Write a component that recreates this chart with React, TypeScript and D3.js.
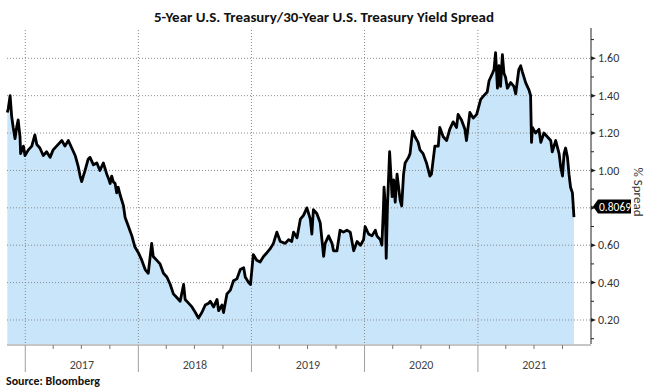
import { useEffect, useRef } from 'react';
import * as d3 from 'd3';

// 5y/30y UST spread
const dates: string[] = [
  '2016-11-04', '2016-11-07', '2016-11-13', '2016-11-18', '2016-11-23', '2016-11-29', '2016-12-04', '2016-12-09',
  '2016-12-15', '2016-12-17', '2016-12-26', '2016-12-31', '2017-01-11', '2017-01-22', '2017-02-01', '2017-02-07',
  '2017-02-17', '2017-02-28', '2017-03-11', '2017-03-22', '2017-04-01', '2017-04-12', '2017-04-29', '2017-05-09',
  '2017-05-20', '2017-05-31', '2017-06-11', '2017-06-21', '2017-06-27', '2017-07-02', '2017-07-13', '2017-07-23',
  '2017-07-29', '2017-08-09', '2017-08-20', '2017-08-30', '2017-09-10', '2017-09-21', '2017-09-26', '2017-10-02',
  '2017-10-07', '2017-10-12', '2017-10-18', '2017-10-23', '2017-10-28', '2017-11-03', '2017-11-14', '2017-11-19',
  '2017-11-30', '2017-12-11', '2017-12-21', '2018-01-01', '2018-01-12', '2018-01-23', '2018-02-02', '2018-02-13',
  '2018-02-18', '2018-03-01', '2018-03-12', '2018-03-23', '2018-04-03', '2018-04-14', '2018-04-24', '2018-05-05',
  '2018-05-16', '2018-05-27', '2018-06-01', '2018-06-12', '2018-06-23', '2018-07-04', '2018-07-14', '2018-07-25',
  '2018-08-05', '2018-08-16', '2018-08-21', '2018-09-01', '2018-09-12', '2018-09-17', '2018-09-28', '2018-10-03',
  '2018-10-14', '2018-10-25', '2018-11-04', '2018-11-15', '2018-11-26', '2018-12-07', '2018-12-12', '2018-12-23',
  '2018-12-29', '2019-01-07', '2019-01-18', '2019-01-29', '2019-02-09', '2019-02-20', '2019-03-02', '2019-03-13',
  '2019-03-24', '2019-04-04', '2019-04-20', '2019-05-01', '2019-05-11', '2019-05-17', '2019-05-28', '2019-06-08',
  '2019-06-18', '2019-06-29', '2019-07-10', '2019-07-15', '2019-07-20', '2019-07-31', '2019-08-11', '2019-08-22',
  '2019-08-27', '2019-09-07', '2019-09-18', '2019-09-23', '2019-10-04', '2019-10-14', '2019-10-25', '2019-11-05',
  '2019-11-16', '2019-11-27', '2019-12-08', '2019-12-19', '2019-12-29', '2020-01-03', '2020-01-14', '2020-01-25',
  '2020-02-05', '2020-02-10', '2020-02-15', '2020-02-21', '2020-02-26', '2020-03-02', '2020-03-04', '2020-03-08',
  '2020-03-11', '2020-03-15', '2020-03-22', '2020-03-30', '2020-04-04', '2020-04-09', '2020-04-15', '2020-04-20',
  '2020-04-25', '2020-04-30', '2020-05-06', '2020-05-11', '2020-05-22', '2020-05-27', '2020-06-04', '2020-06-12',
  '2020-06-22', '2020-06-28', '2020-07-08', '2020-07-19', '2020-07-30', '2020-08-04', '2020-08-15', '2020-08-26',
  '2020-08-31', '2020-09-11', '2020-09-22', '2020-10-02', '2020-10-13', '2020-10-24', '2020-10-29', '2020-11-09',
  '2020-11-20', '2020-11-25', '2020-12-06', '2020-12-17', '2020-12-28', '2021-01-10', '2021-01-20', '2021-01-31',
  '2021-02-06', '2021-02-17', '2021-02-22', '2021-02-27', '2021-03-05', '2021-03-10', '2021-03-15', '2021-03-21',
  '2021-03-26', '2021-03-31', '2021-04-06', '2021-04-17', '2021-04-27', '2021-05-03', '2021-05-13', '2021-05-19',
  '2021-05-24', '2021-06-04', '2021-06-15', '2021-06-20', '2021-06-23', '2021-06-26', '2021-07-06', '2021-07-17',
  '2021-07-23', '2021-08-02', '2021-08-13', '2021-08-24', '2021-08-29', '2021-09-09', '2021-09-20', '2021-09-25',
  '2021-10-01', '2021-10-06', '2021-10-11', '2021-10-17', '2021-10-22', '2021-10-27', '2021-11-02', '2021-11-07',
];

const spread: number[] = [
  1.31, 1.33, 1.40, 1.29, 1.23, 1.17, 1.23, 1.27,
  1.18, 1.09, 1.13, 1.08, 1.11, 1.13, 1.19, 1.14,
  1.12, 1.08, 1.10, 1.07, 1.11, 1.13, 1.16, 1.13,
  1.16, 1.12, 1.08, 1.02, 0.97, 0.94, 1.00, 1.06,
  1.07, 1.03, 1.04, 1.00, 1.04, 0.98, 0.96, 0.93,
  0.97, 0.94, 0.93, 0.88, 0.91, 0.87, 0.81, 0.75,
  0.70, 0.65, 0.59, 0.56, 0.52, 0.47, 0.45, 0.61,
  0.54, 0.52, 0.50, 0.45, 0.43, 0.39, 0.34, 0.32,
  0.30, 0.39, 0.31, 0.29, 0.27, 0.24, 0.21, 0.24,
  0.28, 0.29, 0.30, 0.27, 0.31, 0.25, 0.28, 0.24,
  0.34, 0.36, 0.41, 0.42, 0.47, 0.48, 0.43, 0.40,
  0.39, 0.55, 0.52, 0.51, 0.54, 0.56, 0.58, 0.61,
  0.67, 0.62, 0.61, 0.63, 0.62, 0.67, 0.64, 0.74,
  0.76, 0.80, 0.74, 0.66, 0.79, 0.77, 0.72, 0.54,
  0.61, 0.65, 0.61, 0.57, 0.57, 0.68, 0.67, 0.68,
  0.67, 0.57, 0.62, 0.60, 0.63, 0.70, 0.66, 0.65,
  0.68, 0.65, 0.64, 0.63, 0.60, 0.80, 0.91, 0.81,
  0.53, 0.81, 1.10, 0.86, 0.95, 0.83, 0.98, 0.91,
  0.84, 0.81, 0.98, 1.04, 1.07, 1.09, 1.21, 1.18,
  1.15, 1.11, 1.09, 1.04, 0.97, 0.98, 1.13, 1.13,
  1.23, 1.18, 1.16, 1.22, 1.26, 1.23, 1.30, 1.27,
  1.22, 1.16, 1.31, 1.28, 1.30, 1.38, 1.40, 1.42,
  1.48, 1.52, 1.54, 1.63, 1.44, 1.56, 1.45, 1.62,
  1.52, 1.50, 1.44, 1.47, 1.45, 1.41, 1.54, 1.56,
  1.53, 1.47, 1.43, 1.40, 1.15, 1.23, 1.20, 1.22,
  1.15, 1.20, 1.18, 1.16, 1.10, 1.16, 1.09, 1.02,
  0.97, 1.09, 1.12, 1.07, 0.98, 0.91, 0.88, 0.75,
];

const yTicks = [0.2, 0.4, 0.6, 0.8, 1.0, 1.2, 1.4, 1.6];
const yMinorTicks = [0.1, 0.3, 0.5, 0.7, 0.9, 1.1, 1.3, 1.5, 1.7];
const yearLabels = ['2017', '2018', '2019', '2020', '2021'];
const lastValue = 0.8069;

const FONT = 'Calibri, Carlito, Lato, "Open Sans", sans-serif';

export default function App() {
  const svgRef = useRef<SVGSVGElement>(null);

  useEffect(() => {
    if (!svgRef.current) return;
    const svg = d3.select(svgRef.current);
    svg.selectAll('*').remove();

    const parse = d3.timeParse('%Y-%m-%d');
    const data = dates.map((d, i) => ({ date: parse(d) as Date, value: spread[i] }));

    const left = 7;
    const right = 591;
    const top = 28;
    const bottom = 344;

    const x = d3
      .scaleTime()
      .domain([parse('2016-11-03') as Date, parse('2022-01-01') as Date])
      .range([left, right]);
    const y = d3.scaleLinear().domain([0.0716, 1.762]).range([bottom, top]);

    // Title
    svg
      .append('text')
      .attr('x', 324)
      .attr('y', 22)
      .attr('text-anchor', 'middle')
      .attr('font-family', FONT)
      .attr('font-weight', 'bold')
      .attr('font-size', 14.5)
      .attr('fill', '#111')
      .attr('textLength', 340)
      .attr('lengthAdjust', 'spacingAndGlyphs')
      .text('5-Year U.S. Treasury/30-Year U.S. Treasury Yield Spread');

    // Area fill
    const area = d3
      .area<{ date: Date; value: number }>()
      .x((d) => x(d.date))
      .y0(bottom)
      .y1((d) => y(d.value));
    svg.append('path').datum(data).attr('d', area).attr('fill', '#c9e5fa');

    // Grid lines
    svg
      .append('g')
      .selectAll('line')
      .data(yTicks)
      .enter()
      .append('line')
      .attr('x1', left)
      .attr('x2', right)
      .attr('y1', (d) => y(d))
      .attr('y2', (d) => y(d))
      .attr('stroke', '#8a8a8a')
      .attr('stroke-width', 1)
      .attr('stroke-dasharray', '1,2');

    const years = yearLabels.map((yr) => parse(`${yr}-01-01`) as Date);
    svg
      .append('g')
      .selectAll('line')
      .data(years)
      .enter()
      .append('line')
      .attr('x1', (d) => x(d))
      .attr('x2', (d) => x(d))
      .attr('y1', top + 2)
      .attr('y2', bottom)
      .attr('stroke', '#8a8a8a')
      .attr('stroke-width', 1)
      .attr('stroke-dasharray', '1,2');

    // Line
    const line = d3
      .line<{ date: Date; value: number }>()
      .x((d) => x(d.date))
      .y((d) => y(d.value));
    svg
      .append('path')
      .datum(data)
      .attr('d', line)
      .attr('fill', 'none')
      .attr('stroke', '#000')
      .attr('stroke-width', 2.8)
      .attr('stroke-linejoin', 'round');

    // Bottom axis
    svg
      .append('line')
      .attr('x1', left)
      .attr('x2', right)
      .attr('y1', bottom + 1)
      .attr('y2', bottom + 1)
      .attr('stroke', '#8c8c8c');

    const quarters = x
      .ticks(d3.timeMonth.every(3) as d3.TimeInterval)
      .filter((d) => d.getMonth() !== 0);
    svg
      .append('g')
      .selectAll('line')
      .data(quarters)
      .enter()
      .append('line')
      .attr('x1', (d) => x(d))
      .attr('x2', (d) => x(d))
      .attr('y1', bottom + 1)
      .attr('y2', bottom + 5)
      .attr('stroke', '#777');

    svg
      .append('g')
      .selectAll('line')
      .data(years)
      .enter()
      .append('line')
      .attr('x1', (d) => x(d))
      .attr('x2', (d) => x(d))
      .attr('y1', bottom + 1)
      .attr('y2', 372)
      .attr('stroke', '#a0a0a0');

    svg
      .append('g')
      .selectAll('text')
      .data(years)
      .enter()
      .append('text')
      .attr('x', (d) => (x(d) + x(d3.timeYear.offset(d, 1))) / 2)
      .attr('y', 369)
      .attr('text-anchor', 'middle')
      .attr('font-family', FONT)
      .attr('font-size', 12)
      .attr('fill', '#444')
      .text((d, i) => yearLabels[i]);

    // Right axis
    svg
      .append('line')
      .attr('x1', right)
      .attr('x2', right)
      .attr('y1', top)
      .attr('y2', bottom)
      .attr('stroke', '#222');

    svg
      .append('g')
      .selectAll('line')
      .data(yMinorTicks)
      .enter()
      .append('line')
      .attr('x1', right)
      .attr('x2', right + 3)
      .attr('y1', (d) => y(d))
      .attr('y2', (d) => y(d))
      .attr('stroke', '#222');

    svg
      .append('g')
      .selectAll('path')
      .data(yTicks)
      .enter()
      .append('path')
      .attr('d', (d) => `M${right},${y(d) - 2}L${right + 5},${y(d)}L${right},${y(d) + 2}Z`)
      .attr('fill', '#222');

    svg
      .append('g')
      .selectAll('text')
      .data(yTicks.filter((d) => Math.abs(d - 0.8) > 0.01))
      .enter()
      .append('text')
      .attr('x', right + 7)
      .attr('y', (d) => y(d))
      .attr('dy', '0.35em')
      .attr('font-family', FONT)
      .attr('font-size', 12)
      .attr('fill', '#333')
      .text((d) => d.toFixed(2));

    // Last value tag
    const ly = y(lastValue);
    svg
      .append('path')
      .attr('d', `M${right + 2},${ly}L${right + 7},${ly - 7}L${right + 40},${ly - 7}L${right + 40},${ly + 7}L${right + 7},${ly + 7}Z`)
      .attr('fill', '#000');
    svg
      .append('text')
      .attr('x', right + 8)
      .attr('y', ly)
      .attr('dy', '0.35em')
      .attr('font-family', FONT)
      .attr('font-size', 11.5)
      .attr('fill', '#fff')
      .text(lastValue.toFixed(4));

    // Axis title
    svg
      .append('text')
      .attr('transform', `translate(634,192) rotate(90)`)
      .attr('text-anchor', 'middle')
      .attr('font-family', FONT)
      .attr('font-size', 13)
      .attr('fill', '#333')
      .text('% Spread');

    // Source
    svg
      .append('text')
      .attr('x', 6)
      .attr('y', 385)
      .attr('font-family', FONT)
      .attr('font-weight', 'bold')
      .attr('font-size', 12.5)
      .attr('fill', '#111')
      .attr('textLength', 94)
      .attr('lengthAdjust', 'spacingAndGlyphs')
      .text('Source: Bloomberg');
  }, []);

  return (
    <svg
      ref={svgRef}
      width={647}
      height={392}
      style={{ position: 'absolute', left: 0, top: 0, background: '#fff' }}
    />
  );
}
